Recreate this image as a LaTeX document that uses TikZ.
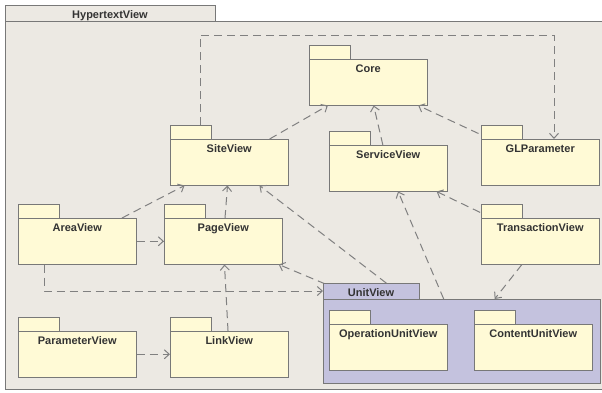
\documentclass[tikz,border=0pt]{standalone}
\usepackage{fontspec}
\setmainfont{Liberation Sans}
\usetikzlibrary{calc, arrows.meta}

\definecolor{framefill}{RGB}{236,233,227}
\definecolor{pkgfill}{RGB}{255,250,214}
\definecolor{unitfill}{RGB}{196,194,222}
\definecolor{pkgline}{RGB}{120,120,120}
\definecolor{depline}{RGB}{128,128,128}
\definecolor{pkgtext}{RGB}{51,51,51}

\tikzset{
  pkg/.style={draw=pkgline, fill=pkgfill, line width=1pt, outer sep=0pt, anchor=north west,
    minimum width=118.5pt, minimum height=46.5pt, inner xsep=0pt, inner ysep=3pt,
    text height=10pt, text depth=30.5pt, text=pkgtext,
    font=\fontsize{11}{13}\selectfont\bfseries},
  pkgtab/.style={draw=pkgline, fill=pkgfill, line width=1pt, outer sep=0pt, anchor=south west,
    minimum width=41pt, minimum height=14pt, inner sep=0pt},
  tabtext/.style={text height=10pt, text depth=0pt, text=pkgtext,
    font=\fontsize{11}{13}\selectfont\bfseries},
  dep/.style={draw=depline, line width=1pt, dash pattern=on 8pt off 5pt, ->},
}

\begin{document}
\begin{tikzpicture}[x=1pt, y=-1pt, >={Straight Barb[length=5pt, width=9pt]}]
  \useasboundingbox (0,0) rectangle (602,392);
  \clip (0,0) rectangle (602,392);
  % outer package
  \node[pkgtab, fill=framefill, minimum width=210pt, minimum height=16pt, tabtext] (hypertext-tab) at (5,21) {HypertextView};
  \node[draw=pkgline, fill=framefill, line width=1pt, outer sep=0pt, anchor=north west,
    minimum width=605pt, minimum height=368pt] (hypertext) at (5,21) {};

  \node[pkg] (core) at (309,59) {Core};
  \node[pkg] (site) at (170,139) {SiteView};
  \node[pkg] (service) at (329,145) {ServiceView};
  \node[pkg] (glparam) at (481,139) {GLParameter};
  \node[pkg] (area) at (18,218) {AreaView};
  \node[pkg] (page) at (164,218) {PageView};
  \node[pkg] (transaction) at (481,218) {TransactionView};
  \node[pkg, fill=unitfill, minimum width=277pt, minimum height=84pt] (unit) at (323,299) {};
  \node[pkg] (paramview) at (18,331) {ParameterView};
  \node[pkg] (link) at (170,331) {LinkView};
  \node[pkg] (opunit) at (329,324) {OperationUnitView};
  \node[pkg] (content) at (474,324) {ContentUnitView};

  \draw[dep] (site) -- (core);
  \draw[dep] (service) -- (core);
  \draw[dep] (glparam) -- (core);
  \draw[dep] (area) -- (site);
  \draw[dep] (page) -- (site);
  \draw[dep] (unit) -- (site);
  \draw[dep] (area) -- (page);
  \draw[dep] (unit) -- (page);
  \draw[dep] (link) -- (page);
  \draw[dep] (paramview) -- (link);
  \draw[dep] (unit) -- (service);
  \draw[dep] (transaction) -- (service);
  \draw[dep] (transaction) -- (unit);

  \foreach \p in {core, site, service, glparam, area, page, transaction, paramview, link, opunit, content}
    \node[pkgtab] (\p-tab) at (\p.north west) {};
  \node[pkgtab, fill=unitfill, minimum width=96pt, minimum height=16pt, tabtext] (unit-tab) at (unit.north west) {UnitView};

  \draw[dep] ([xshift=9.5pt]site-tab.north) -- ++(0,-90) -| ([xshift=73pt]glparam.north west);
  \draw[dep] ([xshift=26pt]area.south west) |- (unit-tab.west);
\end{tikzpicture}
\end{document}
